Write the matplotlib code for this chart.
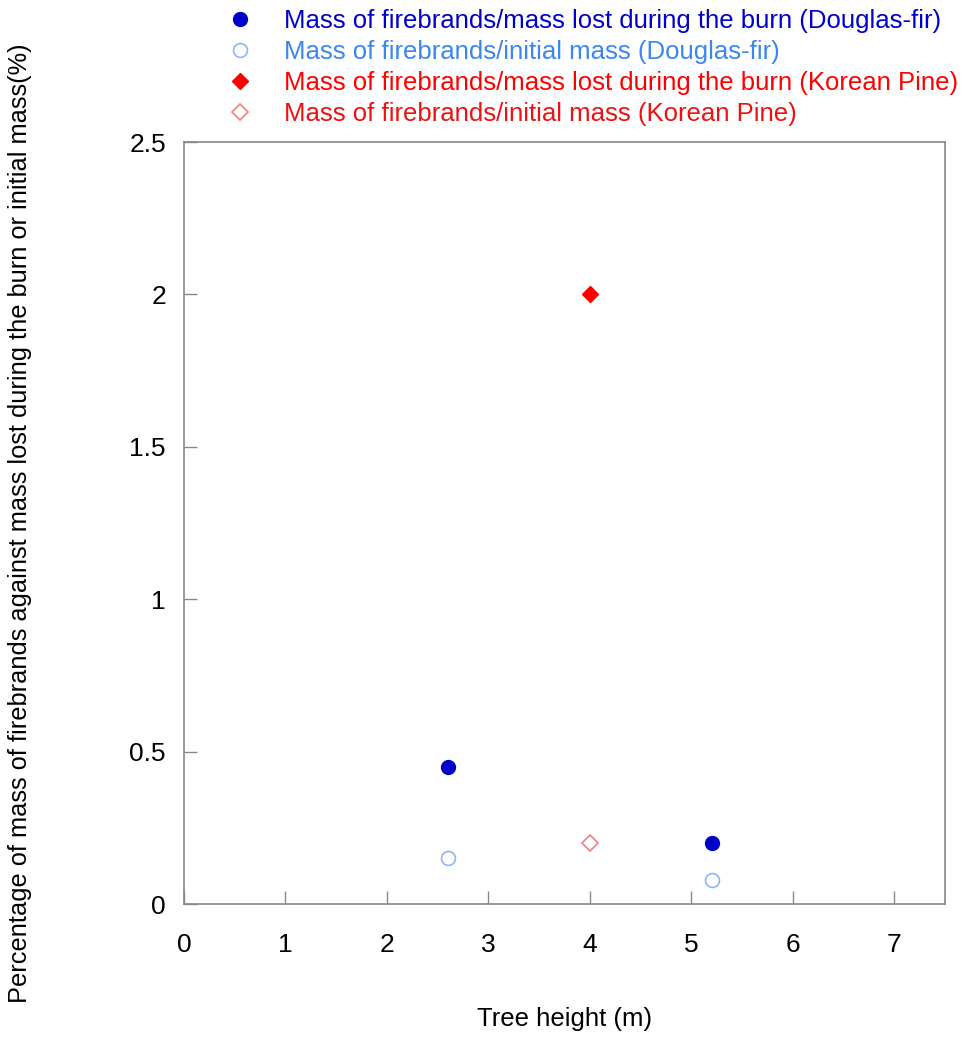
import matplotlib
matplotlib.use("Agg")
import matplotlib.pyplot as plt

plt.rcParams['font.family'] = ['Liberation Sans', 'DejaVu Sans']

# Tree height (m) and firebrand mass ratios (%)
df_height = [2.6, 5.2]
df_vs_lost = [0.45, 0.20]
df_vs_initial = [0.15, 0.08]

kp_height = [4.0]
kp_vs_lost = [2.0]
kp_vs_initial = [0.2]

labels = [
    "Mass of firebrands/mass lost during the burn (Douglas-fir)",
    "Mass of firebrands/initial mass (Douglas-fir)",
    "Mass of firebrands/mass lost during the burn (Korean Pine)",
    "Mass of firebrands/initial mass (Korean Pine)",
]
label_colors = ["#0000CC", "#3A87F0", "#FF0000", "#EE1111"]

x_ticks = [0, 1, 2, 3, 4, 5, 6, 7]
y_ticks = [0, 0.5, 1, 1.5, 2, 2.5]
y_tick_labels = ["0", "0.5", "1", "1.5", "2", "2.5"]

fig = plt.figure(figsize=(9.62, 10.4), dpi=100)
ax = fig.add_axes([184 / 962, 136 / 1040, 761 / 962, 762 / 1040])

h1, = ax.plot(df_height, df_vs_lost, 'o', ls='none', ms=10,
              mfc='#0000CC', mec='#0000CC', label=labels[0])
h2, = ax.plot(df_height, df_vs_initial, 'o', ls='none', ms=10,
              mfc='white', mec='#8DB4F5', mew=1.2, label=labels[1])
h3, = ax.plot(kp_height, kp_vs_lost, 'D', ls='none', ms=8,
              mfc='#FF0000', mec='#FF0000', label=labels[2])
h4, = ax.plot(kp_height, kp_vs_initial, 'D', ls='none', ms=8,
              mfc='white', mec='#F07F7F', mew=1.2, label=labels[3])

ax.set_xlim(0, 7.5)
ax.set_ylim(0, 2.5)
ax.set_xticks(x_ticks)
ax.set_yticks(y_ticks)
ax.set_yticklabels(y_tick_labels)

for sp in ax.spines.values():
    sp.set_color('#888888')
    sp.set_linewidth(1.2)
ax.tick_params(direction='in', length=9.5, width=1.0, color='#888888',
               labelsize=19, top=False, right=False)
ax.tick_params(axis='x', pad=21)
ax.tick_params(axis='y', pad=13)

ax.set_xlabel("Tree height (m)", fontsize=18.5, labelpad=36)
fig.text(20 / 962, 0.497,
         "Percentage of mass of firebrands against mass lost during the burn or initial mass(%)",
         rotation=90, ha='center', va='center', fontsize=18.3)

leg = fig.legend(handles=[h1, h2, h3, h4], loc='upper left',
                 bbox_to_anchor=(227 / 962, 1 - 9 / 1040), frameon=False,
                 fontsize=18.5, handlelength=1.0, handletextpad=1.2,
                 labelspacing=0.27, borderpad=0, borderaxespad=0,
                 labelcolor=label_colors)

fig.savefig("out.png", dpi=100)
